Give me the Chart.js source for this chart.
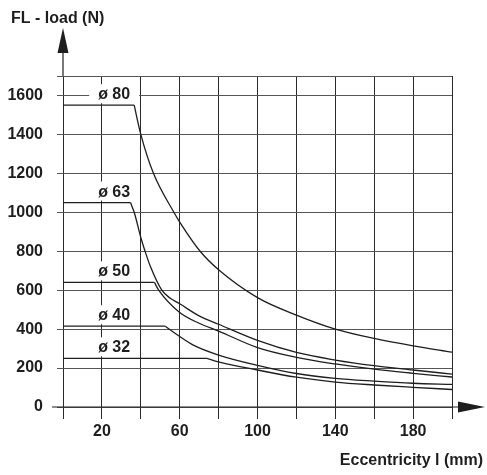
<!DOCTYPE html>
<html>
<head>
<meta charset="utf-8">
<script src="https://cdn.jsdelivr.net/npm/chart.js@4.4.0/dist/chart.umd.min.js"></script>
<style>
  body { margin: 0; background: #fff; }
</style>
</head>
<body>
<canvas id="canvas1" width="487" height="475"></canvas>
<script>
// DONNEES

let diametres = ['ø 80', 'ø 63', 'ø 50', 'ø 40', 'ø 32'];

// excentricite (mm) : le 2e point = fin du palier
let ecc80 = [0, 36.6, 40, 46.5, 57, 60, 70.5, 80, 100, 120, 140, 160, 180, 200];
let ecc63 = [0, 34.7, 36.6, 40.3, 42.2, 45, 50.8, 55, 60, 70, 80, 100, 120, 140, 160, 180, 200];
let ecc50 = [0, 47, 49.2, 60, 70, 80, 100, 120, 140, 160, 180, 200];
let ecc40 = [0, 52.6, 60, 67, 80, 100, 120, 140, 160, 180, 200];
let ecc32 = [0, 74, 80, 100, 120, 140, 160, 180, 200];

// charge FL (N)
let load80 = [1550, 1550, 1400, 1200, 1000, 950, 800, 705, 562, 472, 400, 352, 314, 282];
let load63 = [1050, 1050, 1000, 860, 800, 720, 600, 560, 530, 468, 425, 342, 280, 241, 212, 190, 169];
let load50 = [640, 640, 600, 485, 430, 390, 305, 255, 221, 194, 173, 154];
let load40 = [415, 415, 362, 318, 267, 214, 172, 147, 133, 122, 116];
let load32 = [250, 250, 232, 190, 153, 128, 113, 101, 90];

// graduations
let xLabels = [20, 60, 100, 140, 180];
let yTicks = [0, 200, 400, 600, 800, 1000, 1200, 1400, 1600];

let eccs = [ecc80, ecc63, ecc50, ecc40, ecc32];
let loads = [load80, load63, load50, load40, load32];

let police = 'bold 16px "Liberation Sans", Arial, sans-serif';
let encre = '#1e1e1e';

//Construction des datasets : palier droit + courbe
let datasets = [];
diametres.forEach(function (nom, i) {
    let points = eccs[i].map(function (x, j) { return {x: x, y: loads[i][j]}; });
    datasets.push({
        label: nom + ' palier',
        data: points.slice(0, 2),
        borderColor: encre,
        borderWidth: 1.3,
        pointRadius: 0,
        fill: false
    });
    datasets.push({
        label: nom,
        data: points.slice(1),
        borderColor: encre,
        borderWidth: 1.3,
        pointRadius: 0,
        fill: false,
        cubicInterpolationMode: 'monotone'
    });
});

//Plugin : fleches, titres d'axes, etiquettes des diametres
let dessin = {
    id: 'dessin',
    afterDraw: function (chart) {
        let ctx = chart.ctx;
        let xs = chart.scales.x;
        let ys = chart.scales.y;
        let x0 = xs.getPixelForValue(0);
        let y0 = ys.getPixelForValue(0);
        let top = chart.chartArea.top;
        ctx.save();
        ctx.strokeStyle = encre;
        ctx.fillStyle = encre;
        ctx.lineWidth = 1.2;

        // axe y prolonge + fleche
        ctx.beginPath();
        ctx.moveTo(x0, top);
        ctx.lineTo(x0, 50);
        ctx.stroke();
        ctx.beginPath();
        ctx.moveTo(x0, 28);
        ctx.lineTo(x0 - 5.5, 53);
        ctx.lineTo(x0 + 5.5, 53);
        ctx.closePath();
        ctx.fill();

        // axe x prolonge + fleche
        ctx.beginPath();
        ctx.moveTo(52, y0);
        ctx.lineTo(460, y0);
        ctx.stroke();
        ctx.beginPath();
        ctx.moveTo(485, y0);
        ctx.lineTo(458, y0 - 5.5);
        ctx.lineTo(458, y0 + 5.5);
        ctx.closePath();
        ctx.fill();

        // titres
        ctx.font = police;
        ctx.textBaseline = 'alphabetic';
        ctx.textAlign = 'left';
        ctx.fillText('FL - load (N)', 11, 23);
        ctx.textAlign = 'right';
        ctx.fillText('Eccentricity l (mm)', 483, 465);

        // etiquettes ø avec fond blanc
        ctx.textAlign = 'center';
        let lx = xs.getPixelForValue(26.3);
        diametres.forEach(function (nom, i) {
            let yPlat = ys.getPixelForValue(loads[i][0]);
            ctx.fillStyle = '#fff';
            ctx.fillRect(lx - 25, yPlat - 21, 50, 19);
            ctx.fillStyle = encre;
            ctx.fillText(nom, lx, yPlat - 6);
        });
        ctx.restore();
    }
};

let config = {
    type: 'line',
    data: { datasets: datasets },
    options: {
        responsive: false,
        animation: false,
        layout: { padding: { top: 76, right: 35, left: 0, bottom: 0 } },
        plugins: {
            legend: { display: false },
            tooltip: { enabled: false }
        },
        scales: {
            x: {
                type: 'linear',
                min: 0,
                max: 200,
                border: { display: false },
                grid: { color: '#2a2a2a', lineWidth: 1, tickLength: 12 },
                ticks: {
                    stepSize: 20,
                    autoSkip: false,
                    maxRotation: 0,
                    padding: 3,
                    color: encre,
                    font: { family: '"Liberation Sans", Arial, sans-serif', size: 16, weight: 'bold' },
                    callback: function (v) { return xLabels.includes(v) ? String(v) : ''; }
                },
                afterFit: function (s) { s.height = 68; }
            },
            y: {
                min: 0,
                max: 1700,
                border: { display: false },
                grid: { color: '#555', lineWidth: 1, tickLength: 6 },
                ticks: {
                    stepSize: 200,
                    padding: 14,
                    color: encre,
                    font: { family: '"Liberation Sans", Arial, sans-serif', size: 16, weight: 'bold' },
                    callback: function (v) { return yTicks.includes(v) ? String(v) : ''; }
                },
                afterFit: function (s) { s.width = 63; }
            }
        }
    },
    plugins: [dessin]
};

let chart = new Chart(document.getElementById('canvas1').getContext('2d'), config);
</script>
</body>
</html>
